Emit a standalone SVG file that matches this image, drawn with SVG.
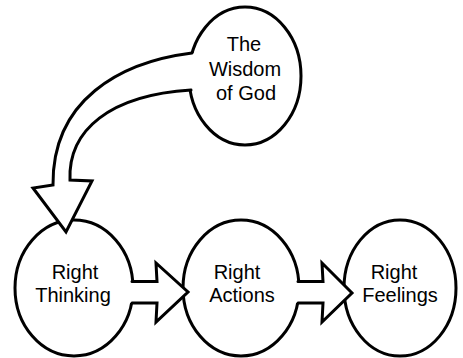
<svg xmlns="http://www.w3.org/2000/svg" width="463" height="358" viewBox="0 0 463 358">
<style>
.node ellipse{fill:#fff;stroke:#000;stroke-width:3}
.lbl{font-family:"Liberation Sans",Arial,sans-serif;font-size:20px;fill:#000;text-anchor:middle}
.af{fill:#fff;stroke:none}
.ao{fill:none;stroke:#000;stroke-width:3;stroke-linejoin:miter;stroke-linecap:round}
</style>
<rect width="463" height="358" fill="#fff"/>
<g id="wisdom" class="node">
<ellipse cx="245" cy="76" rx="56" ry="69"/>
<text class="lbl" x="244" y="51">The</text>
<text class="lbl" x="245" y="76">Wisdom</text>
<text class="lbl" x="246" y="100">of God</text>
</g>
<g id="thinking" class="node">
<ellipse cx="74" cy="288" rx="59" ry="68"/>
<text class="lbl" x="75" y="279">Right</text>
<text class="lbl" x="73" y="302">Thinking</text>
</g>
<g id="actions" class="node">
<ellipse cx="241" cy="288" rx="58" ry="68"/>
<text class="lbl" x="237" y="279">Right</text>
<text class="lbl" x="242" y="302">Actions</text>
</g>
<g id="feelings" class="node">
<ellipse cx="400" cy="288" rx="56" ry="68"/>
<text class="lbl" x="394" y="279">Right</text>
<text class="lbl" x="400" y="302">Feelings</text>
</g>
<g id="connectors">
<path class="af" d="M200,53 L192,53 C120,62 52,100 53,185 L33,188 L66,232 L92,181 L70,180 C68,130 110,95 192,90 L200,90 Z"/>
<path class="ao" d="M192,53 C120,62 52,100 53,185 L33,188 L66,232 L92,181 L70,180 C68,130 110,95 191,90"/>
<polygon class="af" points="126,281.5 157,281.5 156,263 188,292 156,322 157,303 126,303"/>
<polyline class="ao" points="132,281.5 157,281.5 156,263 188,292 156,322 157,303 132,303"/>
<polygon class="af" points="292,281.5 323,281.5 322,263 352,293 322,322 323,303 292,303"/>
<polyline class="ao" points="298,281.5 323,281.5 322,263 352,293 322,322 323,303 298,303"/>
</g>
</svg>
